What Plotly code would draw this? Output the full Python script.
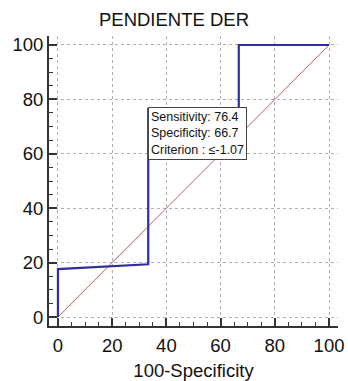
import plotly.graph_objects as go

# ROC curve coordinates (100-Specificity vs Sensitivity)
fpr = [0, 0, 33.3, 33.3, 66.7, 66.7, 100]
tpr = [0, 17.6, 19.4, 76.4, 76.4, 100, 100]

# Reference diagonal
diag_x = [0, 100]
diag_y = [0, 100]

# Optimal criterion point
crit_sens = 76.4
crit_spec = 66.7
crit_label = "≤-1.07"

title_text = "PENDIENTE DER"
x_title = "100-Specificity"
tick_vals = [0, 20, 40, 60, 80, 100]

font_family = "Liberation Sans, Arial, sans-serif"

fig = go.Figure()
fig.add_trace(go.Scatter(x=diag_x, y=diag_y, mode="lines",
                         line=dict(color="#c46060", width=1),
                         hoverinfo="skip", showlegend=False))
fig.add_trace(go.Scatter(x=fpr, y=tpr, mode="lines",
                         line=dict(color="#2e2e9e", width=2.2),
                         showlegend=False))

fig.add_annotation(
    x=100 - crit_spec, y=crit_sens, xref="x", yref="y",
    text=(f"Sensitivity: {crit_sens}<br>Specificity: {crit_spec}"
          f"<br>Criterion : {crit_label}"),
    showarrow=False, xanchor="left", yanchor="top", align="left",
    yshift=2,
    font=dict(family=font_family, size=12.5, color="#111"),
    bgcolor="white", bordercolor="#444", borderwidth=1, borderpad=2,
)

axis_common = dict(
    range=[-3.3, 103.3], tickvals=tick_vals, showline=True, linecolor="#333",
    linewidth=2, ticks="inside", ticklen=8, tickwidth=1.5, tickcolor="#333",
    showgrid=True, gridcolor="#b0b0b0", griddash="dot", gridwidth=1,
    zeroline=False, tickfont=dict(family=font_family, size=18.5, color="#111"),
    minor=dict(dtick=5, ticks="inside", ticklen=4, tickwidth=1.2,
               tickcolor="#333", showgrid=False),
    fixedrange=True, automargin=False,
)

fig.update_layout(
    width=348, height=381,
    margin=dict(l=49, r=10, t=36, b=55, autoexpand=False),
    paper_bgcolor="white", plot_bgcolor="white",
    title=dict(text=title_text, x=0.5, xanchor="center", y=0.966,
               yanchor="top", automargin=False,
               font=dict(family=font_family, size=18.5, color="#111")),
    xaxis=dict(**axis_common, ticklabelstandoff=2,
               title=dict(text=x_title, standoff=13,
                          font=dict(family=font_family, size=18.5, color="#111"))),
    yaxis=dict(**axis_common),
    font=dict(family=font_family),
)

fig.write_html("out.html")
